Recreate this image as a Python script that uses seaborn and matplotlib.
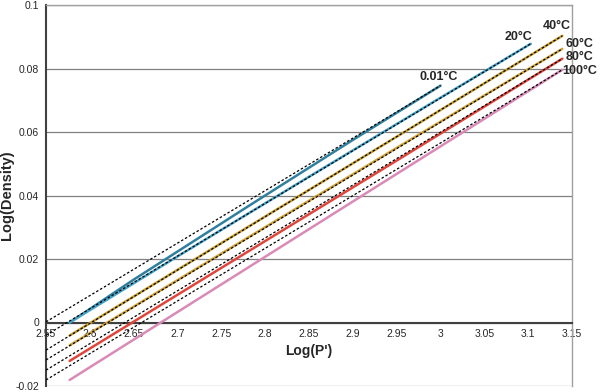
import numpy as np
import pandas as pd
import seaborn as sns
import matplotlib.pyplot as plt
from matplotlib.ticker import FuncFormatter

# data
temps = ['0.01°C', '20°C', '40°C', '60°C', '80°C', '100°C']
logp = [
    [2.577, 2.65, 2.78, 2.9, 3.0],
    [2.577, 2.7, 2.85, 3.0, 3.103],
    [2.577, 2.75, 2.95, 3.139],
    [2.577, 2.75, 2.95, 3.139],
    [2.577, 2.75, 2.95, 3.139],
    [2.577, 2.65, 2.75, 2.95, 3.139],
]
logd = [
    [0.0, 0.0135, 0.0365, 0.0575, 0.0746],
    [0.0, 0.0208, 0.0459, 0.0708, 0.0878],
    [-0.0041, 0.0250, 0.0585, 0.0903],
    [-0.0072, 0.0217, 0.0550, 0.0862],
    [-0.0121, 0.0172, 0.0510, 0.0831],
    [-0.0181, -0.0054, 0.0120, 0.0468, 0.0796],
]
# trendline value at the left edge of the axis (log P' = 2.55)
trend_left = [0.0002, -0.0040, -0.0087, -0.0118, -0.0150, -0.0181]
colors = ['#2f7f9e', '#45a3c8', '#c9a02e', '#d3a63c', '#e0453c', '#d98ab6']

# label positions (data units)
label_x = [2.998, 3.0895, 3.133, 3.159, 3.159, 3.159]
label_y = [0.0774, 0.0900, 0.0934, 0.0878, 0.0837, 0.0793]

rows = []
for t, xs, ys in zip(temps, logp, logd):
    for x, y in zip(xs, ys):
        rows.append({'temp': t, 'logP': x, 'logD': y})
df = pd.DataFrame(rows)

trows = []
for t, xs, ys, y0 in zip(temps, logp, logd, trend_left):
    trows.append({'temp': t, 'logP': 2.55, 'logD': y0})
    trows.append({'temp': t, 'logP': xs[-1], 'logD': ys[-1]})
trend = pd.DataFrame(trows)

sns.set_style('white')
plt.rcParams['font.family'] = ['Liberation Sans', 'DejaVu Sans']

fig = plt.figure(figsize=(6, 3.92), dpi=100)
ax = fig.add_axes([46 / 600, 1 - 386 / 392, 526 / 600, 381 / 392])

sns.lineplot(data=df, x='logP', y='logD', hue='temp', hue_order=temps,
             palette=colors, legend=False, sort=False, linewidth=1.8,
             ax=ax, zorder=3)
for t in temps:
    sns.lineplot(data=trend[trend.temp == t], x='logP', y='logD',
                 color='black', linewidth=0.9, ax=ax, zorder=4,
                 dashes=False).lines[-1].set_dashes((2, 1.6))

for t, x, y in zip(temps, label_x, label_y):
    ax.text(x, y, t, ha='center', va='center', fontsize=9,
            fontweight='bold', clip_on=False)

ax.set_xlim(2.55, 3.15)
ax.set_ylim(-0.02, 0.1)
ax.set_xticks(np.arange(2.55, 3.151, 0.05))
ax.set_yticks(np.arange(-0.02, 0.1001, 0.02))
ax.xaxis.set_major_formatter(FuncFormatter(lambda v, p: '%g' % round(v, 2)))
ax.yaxis.set_major_formatter(FuncFormatter(lambda v, p: '%g' % round(v, 2)))

ax.grid(axis='y', color='#808080', linewidth=0.9)
ax.spines['bottom'].set_position(('data', 0))
ax.spines['bottom'].set_color('#404040')
ax.spines['left'].set_color('#404040')
ax.spines['left'].set_linewidth(1.5)
ax.spines['bottom'].set_linewidth(1.5)
for s in ['top', 'right']:
    ax.spines[s].set_color('#a0a0a0')
    ax.spines[s].set_linewidth(1)
ax.tick_params(axis='both', direction='out', length=3, width=1,
               color='#404040', labelsize=7.5, pad=2)

ax.set_xlabel("Log(P')", fontsize=10, fontweight='bold', labelpad=3)
ax.set_ylabel('Log(Density)', fontsize=10.5, fontweight='bold', labelpad=1)

fig.savefig('out.png', dpi=100)
